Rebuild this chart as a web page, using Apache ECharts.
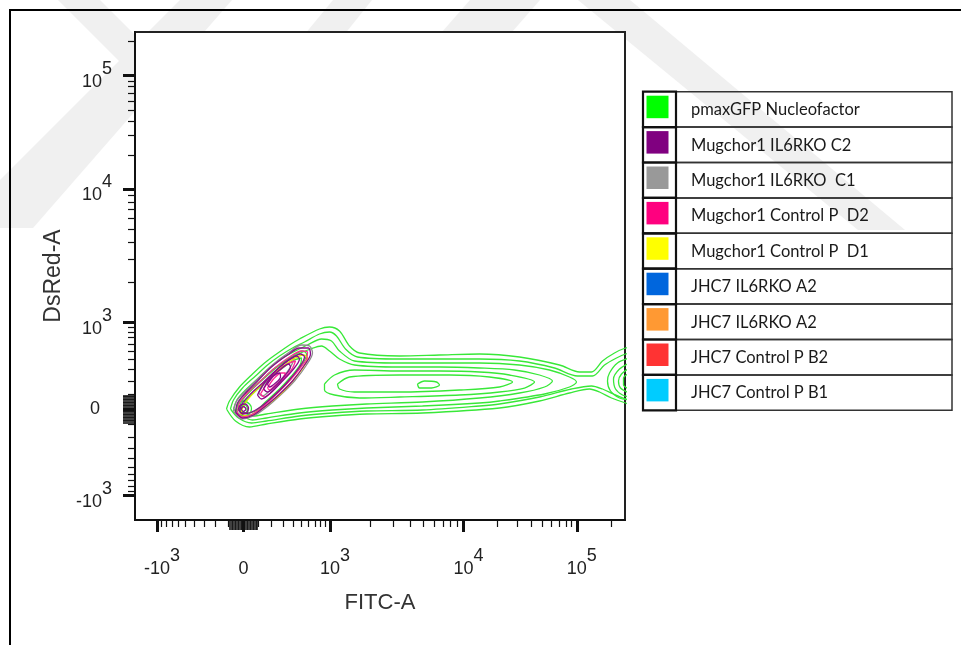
<!DOCTYPE html>
<html>
<head>
<meta charset="utf-8">
<title>FITC-A vs DsRed-A contour plot</title>
<script src="https://cdn.jsdelivr.net/npm/echarts@6/dist/echarts.min.js"></script>
<style>
  html, body { margin: 0; padding: 0; background: #fff; }
  #chart { width: 961px; height: 645px; }
</style>
</head>
<body>
<div id="chart"></div>
<script>
// biexponential display scale, same on both axes (channel units)
const LIN = 86.5, DEC1 = 133.5, DEC2 = 113.3, WIDTH_BASIS = 300
function ch(v) {
  const s = Math.sign(v), a = Math.abs(v)
  let d
  if (a <= 1000) d = LIN * Math.asinh(a / WIDTH_BASIS) / Math.asinh(1000 / WIDTH_BASIS)
  else if (a <= 10000) d = LIN + DEC1 * Math.log10(a / 1000)
  else d = LIN + DEC1 + DEC2 * Math.log10(a / 10000)
  return s * d
}

// ticks (raw FITC / DsRed values)
const majorTicks = [-1000, 0, 1000, 10000, 100000]
const tickBase = ['-10', '0', '10', '10', '10']
const tickExp = ['3', '', '3', '4', '5']
const nearZeroTicks = [-90, -80, -70, -60, -50, -40, -30, -20, -10, 10, 20, 30, 40, 50, 60, 70, 80, 90]
const minorTicks = [-900, -800, -700, -600, -500, -400, -300, -200, -100,
  100, 200, 300, 400, 500, 600, 700, 800, 900,
  2000, 3000, 4000, 5000, 6000, 7000, 8000, 9000,
  20000, 30000, 40000, 50000, 60000, 70000, 80000, 90000, 200000]

// contour lines, [FITC channel, DsRed channel]
const pmaxGFP = [
  [[-17,0],[-14,8],[-4,22],[9,35],[21,46],[33,55],[46,64],[56,70],[76,80],[86,82],[96,78],[106,63],[116,56],[156,53],[196,54],[236,55],[276,52],[316,44],[336,37],[348,37],[359,48],[371,56],[382,61],[396,64],[396,2],[382,6],[368,11],[356,17],[346,20],[326,16],[296,8],[256,1],[179,-4],[123,-5],[89,-7],[56,-10],[23,-15],[6,-18],[-8,-12],[-17,0]],
  [[-13,0],[-10,9],[-1,21],[12,33],[24,44],[36,53],[49,61],[61,67],[76,75],[86,77],[93,73],[102,60],[114,52],[156,50],[196,50],[236,50],[276,48],[311,41],[334,33],[349,33],[361,44],[373,51],[382,55],[396,58],[396,8],[382,10],[370,15],[359,20],[348,23],[328,20],[296,12],[256,5],[236,3],[179,-1],[123,-2],[89,-4],[56,-7],[23,-12],[8,-14],[-5,-9],[-13,0]],
  [[-10,0],[-6,10],[3,20],[15,31],[27,42],[39,51],[52,58],[64,64],[78,70],[88,68],[96,58],[111,48],[156,46],[196,46],[236,46],[276,44],[306,39],[326,32],[333,27],[326,22],[301,15],[256,8],[236,6],[179,3],[123,1],[89,-1],[56,-4],[23,-9],[9,-11],[-3,-6],[-10,0]],
  [[-7,0],[-3,10],[6,19],[18,29],[30,40],[42,48],[55,55],[67,60],[78,63],[86,58],[96,50],[111,44],[156,42],[196,42],[236,41],[271,39],[296,34],[309,28],[301,22],[276,16],[236,11],[179,7],[123,5],[89,3],[56,0],[23,-5],[10,-7],[-1,-3],[-7,0]],
  [[81,25],[91,34],[111,39],[156,38],[196,38],[236,37],[266,34],[291,27],[281,21],[256,17],[216,14],[156,12],[116,11],[91,14],[81,19],[81,25]],
  [[94,25],[106,32],[156,34],[206,34],[246,32],[269,27],[256,22],[216,19],[156,17],[111,17],[96,20],[94,25]],
  [[174,25],[181,28],[193,27],[196,24],[188,21],[176,21],[174,25]],
  [[-5,-1],[-1,9],[8,19],[21,31],[35,43],[49,53],[59,58],[63,55],[59,45],[48,31],[35,17],[22,5],[11,-5],[1,-7],[-5,-1]],
  [[-3,-1],[2,8],[11,17],[24,28],[38,40],[51,49],[58,51],[57,45],[48,33],[36,20],[23,8],[12,-2],[3,-4],[-3,-1]],
  [[-7,0],[-5,6],[0,8],[6,5],[8,0],[5,-6],[0,-7],[-6,-5],[-7,0]],
  [[-4,0],[-2,4],[2,4],[4,0],[2,-4],[-2,-4],[-4,0]],
  [[386,51],[374,46],[366,36],[364,28],[367,18],[376,11],[386,9]],
  [[386,46],[376,40],[370,30],[372,20],[379,14],[386,12]],
  [[386,41],[378,35],[375,28],[377,21],[386,16]],
  [[386,36],[380,31],[380,24],[386,20]]
]
const mugIL6C2 = [
  [[-8,-3],[-6,6],[2,16],[14,28],[28,42],[44,54],[56,61],[65,61],[67,55],[61,44],[49,28],[35,14],[21,2],[10,-6],[-1,-9],[-8,-3]],
  [[-4,-2],[-1,6],[7,15],[19,26],[33,39],[47,50],[57,55],[61,52],[56,42],[44,27],[30,13],[17,2],[6,-4],[-1,-5],[-4,-2]],
  [[-5,0],[-3,4],[2,5],[5,1],[3,-4],[-2,-4],[-5,0]],
  [[14,14],[20,25],[30,36],[42,47],[53,53],[56,50],[50,40],[39,28],[27,16],[18,10],[14,14]],
  [[-2.5,0],[0,2.5],[2.5,0],[0,-2.5],[-2.5,0]],
  [[20,20],[26,30],[36,39],[45,45],[47,42],[41,33],[32,23],[24,17],[20,20]],
  [[24,25],[30,33],[36,36],[37,32],[32,26],[26,22],[24,25]]
]
const mugIL6C1 = [
  [[-10,-2],[-7,8],[2,18],[15,31],[30,45],[46,57],[58,64],[66,63],[69,56],[63,44],[51,28],[37,14],[22,1],[10,-7],[-2,-10],[-10,-2]],
  [[15,16],[22,27],[32,38],[44,48],[51,51],[47,42],[38,30],[27,19],[19,13],[15,16]]
]
const mugCtrlD2 = [
  [[-6,-4],[-4,6],[4,16],[16,27],[30,40],[46,52],[58,58],[64,57],[63,50],[56,40],[44,26],[31,13],[18,1],[7,-6],[-1,-8],[-6,-4]],
  [[17,15],[24,26],[34,37],[46,46],[52,48],[49,41],[40,30],[30,19],[21,12],[17,15]],
  [[24,21],[30,30],[38,36],[42,36],[39,30],[31,23],[26,19],[24,21]]
]
const mugCtrlD1 = [
  [[-3,-5],[1,5],[10,16],[22,28],[36,40],[50,50],[60,54],[64,51],[60,42],[50,29],[38,16],[25,5],[12,-4],[3,-7],[-3,-5]]
]

// legend rows
const legendNames = ['pmaxGFP Nucleofactor', 'Mugchor1 IL6RKO C2', 'Mugchor1 IL6RKO  C1',
  'Mugchor1 Control P  D2', 'Mugchor1 Control P  D1', 'JHC7 IL6RKO A2', 'JHC7 IL6RKO A2',
  'JHC7 Control P B2', 'JHC7 Control P B1']
const legendColors = ['#00ff00', '#800080', '#999999', '#ff007f', '#ffff00',
  '#0066dd', '#ff9933', '#ff3333', '#00ccff']

const samples = [
  { name: legendNames[0], color: '#38e838', lines: pmaxGFP, z: 2 },
  { name: legendNames[2], color: '#8c8c8c', lines: mugIL6C1, z: 3 },
  { name: legendNames[4], color: '#e6e600', lines: mugCtrlD1, z: 4 },
  { name: legendNames[3], color: '#ff2a95', lines: mugCtrlD2, z: 5 },
  { name: legendNames[1], color: '#8a0a8a', lines: mugIL6C2, z: 6 }
]

const X_MIN = -108.5, X_MAX = 381.5, Y_MIN = -111, Y_MAX = 377
const TXT = '#222'
const FONT = 'Liberation Sans'

function labelText(value, vertical) {
  let i = 0
  majorTicks.forEach((t, k) => { if (Math.abs(ch(t) - value) < Math.abs(ch(majorTicks[i]) - value)) i = k })
  if (tickExp[i] === '') return vertical ? '{z|' + tickBase[i] + '}' : '{b|' + tickBase[i] + '}'
  return (vertical ? '' : '{p| }') + '{b|' + tickBase[i] + '}{s|' + tickExp[i] + '}'
}
const richStyle = {
  p: { width: 10, fontSize: 18 },
  b: { fontSize: 18, fontFamily: FONT, color: TXT, padding: [13, 0, 0, 0] },
  s: { fontSize: 18, fontFamily: FONT, color: TXT, padding: [0, 0, 13, 0] },
  z: { fontSize: 18, fontFamily: FONT, color: TXT, padding: [0, 12, 0, 0] }
}

function tickAxis(min, max, vertical, values, len, width) {
  return {
    type: 'value', min: min, max: max, position: vertical ? 'left' : 'bottom',
    axisLine: { show: false, onZero: false },
    axisTick: { show: true, customValues: values.map(ch), length: len, lineStyle: { color: '#111', width: width } },
    axisLabel: { show: false },
    splitLine: { show: false }
  }
}

function axes(min, max, vertical, name) {
  const minorAxis = tickAxis(min, max, vertical, minorTicks, 7, 1.2)
  minorAxis.axisLine = { show: true, onZero: false, lineStyle: { color: '#111', width: 2 } }
  const zeroAxis = tickAxis(min, max, vertical, nearZeroTicks, vertical ? 12 : 10, 1.6)
  const majorAxis = tickAxis(min, max, vertical, majorTicks, 12, 3)
  majorAxis.axisLabel = {
    show: true, customValues: majorTicks.map(ch), margin: vertical ? 23 : 27,
    formatter: (v) => labelText(v, vertical), rich: richStyle
  }
  Object.assign(majorAxis, {
    name: name, nameLocation: 'middle', nameGap: vertical ? 66 : 72,
    nameRotate: vertical ? 90 : 0,
    nameTextStyle: { fontSize: vertical ? 23 : 22, fontFamily: FONT, color: '#333' }
  })
  return [minorAxis, zeroAxis, majorAxis]
}

// faint background watermark bands
const watermark = [
  [[58,0],[100,0],[170,70],[128,70]],
  [[180,0],[232,0],[33,228],[0,228],[0,180]],
  [[333,0],[372,0],[340,40],[300,40]],
  [[470,0],[540,0],[505,40],[435,40]],
  [[578,0],[630,0],[905,230],[858,230]]
]

const graphicEls = []
watermark.forEach(pts => graphicEls.push({
  type: 'polygon', shape: { points: pts }, style: { fill: '#f0f0f0' }, z: -10, silent: true
}))
graphicEls.push({
  type: 'polyline', shape: { points: [[10, 645], [10, 10], [961, 10]] },
  style: { stroke: '#000', lineWidth: 2, fill: null }, z: 20, silent: true
})
const LG_X = 643, LG_Y = 91.7, ROW_H = 35.4, COL1 = 33, COL2 = 276
legendNames.forEach((nm, i) => {
  const y = LG_Y + i * ROW_H
  graphicEls.push({ type: 'rect', shape: { x: LG_X + COL1, y: y, width: COL2, height: ROW_H },
    style: { fill: null, stroke: '#333', lineWidth: 1.5 }, z: 10, silent: true })
  graphicEls.push({ type: 'rect', shape: { x: LG_X, y: y, width: COL1, height: ROW_H },
    style: { fill: null, stroke: '#111', lineWidth: 2.2 }, z: 11, silent: true })
  graphicEls.push({ type: 'rect', shape: { x: LG_X + 3.5, y: y + 4, width: 22, height: 22.5 },
    style: { fill: legendColors[i] }, z: 10, silent: true })
  graphicEls.push({ type: 'text', x: 691, y: y + ROW_H / 2 + 0.5,
    style: { text: nm, fontSize: 16.5, fontFamily: 'Lato', fill: '#1a1a1a', verticalAlign: 'middle' },
    z: 10, silent: true })
})

const series = []
samples.forEach(s => {
  s.lines.forEach(line => series.push({
    type: 'line', name: s.name, data: line, xAxisIndex: 0, yAxisIndex: 0,
    symbol: 'none', smooth: 0.3, clip: true, silent: true, z: s.z,
    lineStyle: { color: s.color, width: 1.3 }
  }))
})

const chart = echarts.init(document.getElementById('chart'), null, { renderer: 'canvas' })
chart.setOption({
  animation: false,
  backgroundColor: '#fff',
  grid: {
    left: 135, top: 32, width: 490, height: 488,
    show: true, backgroundColor: '#fff', borderColor: '#222', borderWidth: 2
  },
  xAxis: axes(X_MIN, X_MAX, false, 'FITC-A'),
  yAxis: axes(Y_MIN, Y_MAX, true, 'DsRed-A'),
  graphic: { elements: graphicEls },
  series: series
})
</script>
</body>
</html>
